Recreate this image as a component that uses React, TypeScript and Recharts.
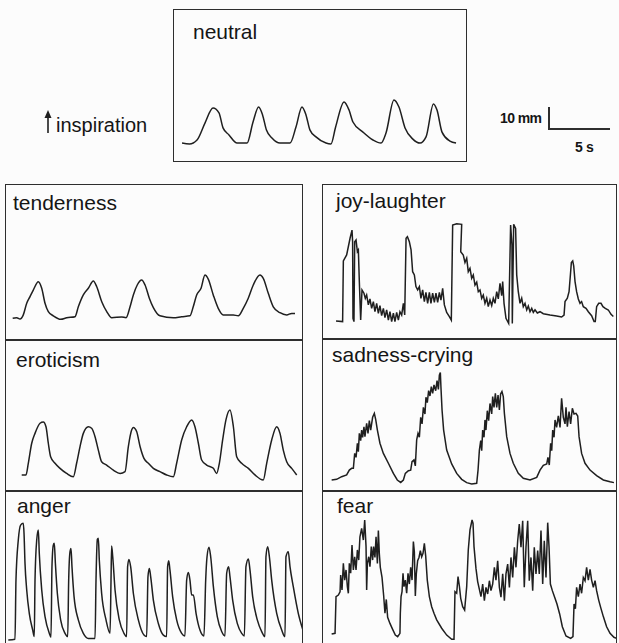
import React from 'react';
import { LineChart, Line, XAxis, YAxis } from 'recharts';

// scale bar: 5 s = 61 px, 10 mm = 22 px
const PX_PER_S = 12.2;
const PX_PER_MM = 2.2;

type Pt = [number, number]; // [time s, deflection mm]

const neutral: Pt[] = [
  [0.74, 8.6], [1.35, 8.2], [1.97, 10], [2.62, 17.7], [3.28, 24.5], [3.77, 22.3], [4.1, 15.5], [4.59, 12.3],
  [5.25, 8.6], [6.07, 8.6], [6.56, 18.2], [7.02, 25], [7.34, 21.4], [7.66, 14.5], [8.11, 10.9], [8.77, 8.6],
  [9.59, 8.6], [10.08, 15.9], [10.57, 25], [10.9, 21.4], [11.23, 14.5], [11.72, 11.4], [12.54, 8.6], [12.95, 8.2],
  [13.33, 15.9], [14.02, 27.3], [14.43, 23.6], [14.75, 18.2], [15.57, 13.6], [16.39, 10], [17.05, 8.6], [17.46, 13.2],
  [18.11, 28.2], [18.52, 25], [19.02, 15.5], [19.64, 10.5], [20.25, 8.6], [20.74, 11.4], [21.35, 26.4], [21.64, 23.6],
  [22.05, 13.6], [22.7, 9.5], [23.2, 8.6],
];

const tenderness: Pt[] = [
  [0.63, 9.9], [0.96, 10.1], [1.23, 9.5], [1.5, 11.4], [1.78, 16.7], [2.05, 19.7], [2.32, 22.7], [2.73, 26.5],
  [3.01, 23.5], [3.28, 16.7], [3.55, 12.9], [3.96, 11], [4.57, 9.4], [5.06, 10.1], [5.74, 10.6], [6.01, 15.1],
  [6.42, 20.5], [6.83, 23.5], [7.24, 26.8], [7.52, 24.2], [7.93, 17.4], [8.34, 12.9], [8.75, 10.1], [9.57, 10.5],
  [9.92, 10.1], [10.25, 15.1], [10.52, 20.5], [10.84, 25], [11.2, 27.3], [11.48, 25], [11.83, 19], [12.16, 14.7],
  [12.7, 11], [13.8, 10.1], [14.48, 10.6], [15.16, 11], [15.43, 15.1], [15.71, 20.5], [16.07, 23.5], [16.39, 29.5],
  [16.66, 27.7], [17.07, 20.5], [17.48, 14.4], [17.89, 11.4], [18.71, 11.4], [19.12, 11], [19.53, 14.4], [19.94, 19],
  [20.35, 25], [20.9, 29.5], [21.17, 28], [21.58, 21.2], [21.99, 15.1], [22.54, 12.4], [23.09, 11.4], [23.5, 12.1],
  [23.77, 12.1],
];

const eroticism: Pt[] = [
  [1.37, 7.3], [1.72, 7.3], [1.91, 12.6], [2.19, 21.7], [2.46, 26.2], [2.87, 30.8], [3.14, 31.4], [3.36, 29.2],
  [3.55, 21.7], [3.74, 15.6], [4.1, 12.6], [4.51, 10.3], [5.05, 8], [5.6, 6.5], [5.87, 12.6], [6.15, 20.2],
  [6.42, 26.2], [6.83, 29.2], [7.1, 28.5], [7.38, 24.7], [7.65, 18.6], [7.92, 13.3], [8.33, 11.8], [8.88, 9.5],
  [9.43, 8], [9.84, 8.8], [10.11, 20.2], [10.38, 27.7], [10.52, 28.9], [10.79, 27], [11.07, 20.2], [11.39, 14.8],
  [11.75, 12.6], [12.16, 10.3], [12.7, 8.8], [13.25, 7.3], [13.8, 6.5], [14.07, 12.6], [14.48, 23.2], [14.89, 29.2],
  [15.3, 32.3], [15.57, 29.2], [15.85, 21.7], [16.12, 14.1], [16.53, 11.8], [17.08, 10.3], [17.35, 8], [17.57, 12.6],
  [17.84, 23.2], [18.11, 32.3], [18.44, 36.8], [18.72, 29.2], [18.99, 15.6], [19.4, 12.6], [19.95, 10.3], [20.49, 7.3],
  [21.17, 5], [21.45, 12.6], [21.86, 23.2], [22.27, 29.2], [22.54, 26.2], [22.81, 18.6], [23.09, 13.3], [23.5, 10.3],
  [23.91, 7.3],
];

const anger: Pt[] = [
  [0.27, 1.4], [0.82, 1.7], [0.9, 28.6], [1.09, 46.8], [1.28, 53.6], [1.5, 54.4], [1.56, 49.8], [1.64, 36.2],
  [1.78, 24.1], [1.99, 13.5], [2.27, 5.9], [2.4, 2.9], [2.46, 28.6], [2.6, 46.8], [2.73, 51.4], [2.81, 40.8],
  [3.01, 24.1], [3.28, 12], [3.63, 4.4], [3.77, 2.6], [3.85, 34.7], [3.96, 44.5], [4.04, 45.3], [4.13, 36.2],
  [4.29, 22.6], [4.56, 10.5], [4.92, 4.4], [5.14, 2.9], [5.22, 28.6], [5.33, 41.5], [5.41, 43], [5.49, 34.7],
  [5.66, 21.1], [6.01, 10.5], [6.42, 4.4], [6.83, 2.1], [7.38, 2.1], [7.46, 28.6], [7.57, 47.1], [7.65, 47.6],
  [7.73, 37.7], [7.92, 22.6], [8.28, 10.5], [8.61, 4.4], [8.69, 28.6], [8.74, 44.1], [8.83, 39.2], [9.02, 24.1],
  [9.37, 10.5], [9.75, 4.4], [9.97, 2.9], [10.05, 34.7], [10.16, 38], [10.3, 34.7], [10.52, 22.6], [10.93, 10.5],
  [11.39, 3.6], [11.61, 2.9], [11.72, 30.2], [11.83, 33.9], [11.94, 30.2], [12.16, 19.5], [12.57, 8.9], [12.98, 3.6],
  [13.25, 2.9], [13.33, 34.7], [13.42, 37.4], [13.52, 33.2], [13.74, 21.1], [14.07, 10.5], [14.48, 4.4], [14.75, 3.2],
  [14.89, 28.6], [15.03, 32], [15.16, 28.6], [15.3, 21.8], [15.44, 21.8], [15.66, 13.5], [15.98, 5.9], [16.31, 3.2],
  [16.45, 28.6], [16.56, 39.2], [16.72, 43.5], [16.86, 39.2], [17.08, 25.6], [17.4, 12], [17.76, 5.2], [18.03, 3.2],
  [18.17, 31.7], [18.33, 34.7], [18.44, 30.2], [18.66, 19.5], [19.04, 8.9], [19.4, 4.4], [19.62, 3.2], [19.75, 34.7],
  [19.95, 38.2], [20.08, 33.2], [20.3, 21.1], [20.68, 10.5], [21.04, 5.2], [21.31, 2.9], [21.39, 39.2], [21.53, 43.8],
  [21.67, 39.2], [21.86, 28.6], [22.27, 13.5], [22.68, 5.9], [22.95, 2.9], [23.03, 39.2], [23.22, 41.5], [23.36, 34.7],
  [23.63, 25.6], [24.04, 13.5], [24.4, 6.2],
];

const joyLaughter: Pt[] = [
  [1.15, 8.2], [1.69, 7.9], [1.75, 35.5], [2.02, 38.2], [2.3, 45.8], [2.46, 49.5], [2.51, 44.2], [2.54, 9.4],
  [2.62, 7.9], [2.68, 44.2], [2.79, 45], [2.9, 39.7], [2.98, 40.5], [3.06, 26.1], [3.17, 8.6], [3.28, 22.3],
  [3.44, 20.8], [3.55, 18.5], [3.66, 20], [3.8, 15.5], [3.93, 18.2], [4.07, 13.9], [4.21, 17], [4.34, 12.4],
  [4.48, 16.2], [4.62, 11.7], [4.75, 15.2], [4.89, 10.6], [5.03, 13.9], [5.16, 9.7], [5.3, 13.2], [5.44, 8.6],
  [5.57, 12.4], [5.71, 7.9], [5.85, 11.7], [5.98, 7.9], [6.12, 12.1], [6.26, 8.6], [6.39, 12.4], [6.53, 10.9],
  [6.67, 16.2], [6.78, 10.9], [6.89, 45.8], [7, 46.5], [7.16, 44.2], [7.3, 40.5], [7.43, 30.6], [7.57, 29.1],
  [7.7, 23.8], [7.84, 22.3], [7.98, 23.8], [8.11, 18.5], [8.25, 22.3], [8.39, 17], [8.52, 21.2], [8.66, 16.2],
  [8.8, 21.2], [8.93, 16.2], [9.07, 20.8], [9.21, 16.7], [9.34, 20.8], [9.48, 16.7], [9.62, 21.2], [9.75, 17.7],
  [9.89, 23], [10.03, 15.5], [10.22, 12.1], [10.44, 10.2], [10.6, 8.6], [10.71, 51.8], [11.04, 52.4], [11.45, 52.1],
  [11.37, 39.7], [11.58, 38.2], [11.72, 34.8], [11.86, 36.7], [11.99, 30.6], [12.13, 32.1], [12.27, 27.6], [12.4, 29.1],
  [12.54, 24.5], [12.68, 25.8], [12.81, 21.5], [12.95, 22.3], [13.09, 18.5], [13.22, 20], [13.36, 16.2], [13.5, 18.5],
  [13.63, 14.7], [13.77, 17.7], [13.91, 15.2], [14.04, 18.5], [14.18, 16.2], [14.32, 21.5], [14.45, 18.2], [14.59, 25.3],
  [14.73, 19.7], [14.81, 26.1], [14.92, 16.2], [15.08, 9.4], [15.3, 7.1], [15.46, 51.8], [15.57, 42.7], [15.6, 7.1],
  [15.71, 52.1], [15.87, 50.3], [15.96, 29.1], [16.09, 21.5], [16.23, 16.2], [16.37, 18.5], [16.5, 14.7], [16.64, 16.2],
  [16.78, 13.2], [16.91, 15], [17.05, 12.4], [17.19, 13.9], [17.32, 12.1], [17.46, 13.3], [17.65, 11.8], [17.87, 12.4],
  [18.14, 11.5], [18.69, 10.9], [19.23, 10.5], [19.64, 10], [19.84, 10.9], [19.92, 17], [20.11, 18.5], [20.25, 21.5],
  [20.36, 29.1], [20.44, 34.8], [20.55, 35.5], [20.63, 33.3], [20.74, 26.1], [20.87, 21.5], [21.01, 18.2], [21.15, 16.2],
  [21.28, 17], [21.42, 14.7], [21.64, 13.9], [21.83, 12.4], [22.1, 10.6], [22.3, 7.9], [22.4, 7.9], [22.51, 14.7],
  [22.68, 16.2], [22.87, 16.2], [23.03, 14.7], [23.22, 13.9], [23.47, 13.2], [23.69, 11.2], [23.88, 10.2],
];

const sadnessCrying: Pt[] = [
  [0.79, 5], [1.2, 5.3], [1.61, 6.5], [2.02, 7.3], [2.24, 9.5], [2.43, 10.3], [2.57, 10.3], [2.68, 17.1],
  [2.79, 15.3], [2.9, 21.7], [2.98, 17.9], [3.06, 26.2], [3.17, 22.9], [3.25, 27.7], [3.33, 24.4], [3.44, 29.2],
  [3.52, 24.7], [3.66, 30.8], [3.77, 26.2], [3.88, 32], [3.99, 27.7], [4.15, 33.5], [4.29, 35.3], [4.4, 32.6],
  [4.54, 27.7], [4.75, 21.7], [5.03, 17.1], [5.44, 12.6], [5.85, 8], [6.17, 5], [6.45, 3.9], [6.67, 5],
  [6.83, 8], [7.08, 9.2], [7.27, 9.5], [7.38, 13.3], [7.54, 14.1], [7.65, 11.4], [7.76, 23.2], [7.87, 26.2],
  [7.98, 24.4], [8.09, 33.5], [8.2, 30.5], [8.31, 38], [8.44, 35], [8.52, 42.6], [8.63, 40.2], [8.74, 45.6],
  [8.85, 43.2], [8.96, 47.4], [9.07, 44.4], [9.18, 48.2], [9.32, 45.6], [9.43, 50.2], [9.54, 46.2], [9.62, 52.7],
  [9.7, 53.8], [9.75, 47.1], [9.84, 36.8], [9.97, 27.7], [10.22, 18.6], [10.63, 12.3], [11.04, 8], [11.45, 5.3],
  [11.86, 3.8], [12.27, 3.2], [12.68, 3.5], [12.79, 9.5], [12.9, 18.6], [13.01, 22.9], [13.09, 18.3], [13.17, 27.7],
  [13.28, 24.4], [13.36, 32.3], [13.44, 27.7], [13.55, 36.5], [13.66, 32], [13.77, 39.8], [13.91, 35], [13.99, 42.9],
  [14.1, 38], [14.21, 44.4], [14.32, 38], [14.43, 43.6], [14.54, 36.8], [14.64, 44.1], [14.75, 45.2], [14.86, 42.9],
  [14.95, 35.3], [15.14, 24.7], [15.41, 17.1], [15.68, 12.6], [16.09, 8], [16.5, 5.8], [17.05, 5], [17.6, 6.2],
  [17.87, 9.5], [18.14, 11.7], [18.42, 12.3], [18.52, 15.3], [18.63, 11.8], [18.74, 21.7], [18.83, 18.3], [18.91, 27.7],
  [19.02, 24.4], [19.1, 32.3], [19.23, 28.9], [19.37, 34.1], [19.51, 28.9], [19.64, 42.1], [19.78, 33.5], [19.92, 30.5],
  [20, 38], [20.11, 29.2], [20.25, 36.1], [20.38, 30.5], [20.52, 37.6], [20.66, 35], [20.82, 35.3], [20.96, 34.1],
  [21.07, 24.7], [21.28, 17.1], [21.56, 12.6], [21.97, 9.5], [22.51, 7], [23.06, 5], [23.61, 4.2], [23.93, 3.8],
];

const fear: Pt[] = [
  [0.79, 4.1], [1.07, 4.4], [1.15, 21.1], [1.34, 21.8], [1.48, 23.3], [1.53, 30.9], [1.64, 24.1], [1.75, 36.2],
  [1.86, 28.6], [1.97, 33.2], [2.08, 25.6], [2.16, 22.6], [2.24, 36.2], [2.35, 31.7], [2.46, 44.5], [2.57, 33.2],
  [2.68, 39.2], [2.79, 33.2], [2.9, 42.3], [3.01, 37.7], [3.11, 48.3], [3.25, 52.1], [3.39, 46.8], [3.5, 55.9],
  [3.61, 43.8], [3.66, 24.1], [3.72, 36.2], [3.83, 39.2], [3.93, 34.7], [4.04, 43.8], [4.15, 37.7], [4.23, 43.8],
  [4.34, 38.9], [4.43, 48.3], [4.54, 36.2], [4.62, 51.1], [4.7, 40.5], [4.78, 34.4], [4.92, 29.8], [5.05, 21.8],
  [5.16, 13.5], [5.27, 19.8], [5.38, 11.7], [5.57, 8.9], [5.79, 6.2], [6.01, 3.6], [6.2, 2.9], [6.39, 4.4],
  [6.42, 13.5], [6.48, 21.1], [6.56, 23.3], [6.64, 31.7], [6.72, 25.6], [6.83, 28.6], [6.94, 22.6], [7.05, 31.7],
  [7.16, 26.8], [7.27, 34.4], [7.38, 28.6], [7.49, 46.1], [7.57, 41.5], [7.65, 21.4], [7.73, 31.4], [7.84, 37.4],
  [7.95, 38.9], [8.06, 42], [8.17, 39.2], [8.28, 40.8], [8.39, 45.3], [8.5, 39.5], [8.63, 28.6], [8.8, 21.1],
  [8.99, 16.5], [9.18, 13.5], [9.4, 10.5], [9.81, 6.7], [10.22, 3.6], [10.63, 1.7], [10.82, 1.7], [10.9, 23.3],
  [11.04, 22.6], [11.15, 30.2], [11.26, 25.9], [11.37, 20.3], [11.53, 16.5], [11.69, 15], [11.86, 25.6], [11.99, 42.3],
  [12.13, 51.4], [12.3, 55.9], [12.38, 54.4], [12.46, 43.8], [12.62, 33.9], [12.76, 27.9], [12.9, 24.4], [13.03, 21.1],
  [13.17, 26.8], [13.31, 19.2], [13.44, 25.3], [13.58, 22.3], [13.72, 28.3], [13.85, 23.8], [13.99, 26.8], [14.13, 34.4],
  [14.26, 28.6], [14.4, 37.4], [14.54, 25.3], [14.67, 20.8], [14.81, 31.4], [14.95, 19.2], [15.08, 31.4], [15.22, 35.9],
  [15.36, 25.3], [15.49, 38.9], [15.63, 29.8], [15.77, 43.5], [15.9, 34.4], [16.04, 46.5], [16.17, 54.1], [16.31, 43.5],
  [16.45, 55.6], [16.58, 25.3], [16.72, 43.5], [16.86, 55.6], [16.99, 28.3], [17.13, 38.9], [17.27, 23.8], [17.4, 43.5],
  [17.54, 31.4], [17.68, 42], [17.81, 31.4], [17.95, 51.1], [18.09, 26.8], [18.22, 46.5], [18.36, 29.8], [18.5, 54.7],
  [18.61, 43.5], [18.72, 26.8], [18.88, 23.8], [19.07, 20.8], [19.26, 17.7], [19.48, 13.2], [19.7, 7.4], [20, 3.2],
  [20.38, 2.1], [20.57, 2.9], [20.66, 17.7], [20.77, 15.6], [20.87, 25.3], [21.01, 21.1], [21.15, 26.8], [21.28, 22.6],
  [21.42, 29.8], [21.56, 28.3], [21.69, 34.4], [21.83, 28.6], [21.97, 33.5], [22.1, 28.6], [22.24, 25.3], [22.38, 28.3],
  [22.51, 23.8], [22.68, 19.5], [22.84, 16.2], [23.06, 12], [23.33, 7.4], [23.61, 4.4], [23.93, 2.6], [24.21, 2],
];

const INK = '#1f1f1f';
const FONT = '"Liberation Sans", Arial, sans-serif';

type PanelProps = {
  left: number; top: number; width: number; height: number;
  label: string; labelX: number; labelY: number;
  points: Pt[]; curve?: 'linear' | 'monotone'; open?: boolean;
};

function Panel({ left, top, width, height, label, labelX, labelY, points, curve = 'linear', open }: PanelProps) {
  const rows = points.map(([t, mm]) => ({ t, mm }));
  return (
    <div style={{ position: 'absolute', left, top, width, height }}>
      <LineChart width={width} height={height} data={rows} margin={{ top: 0, right: 0, bottom: 0, left: 0 }}>
        <XAxis type="number" dataKey="t" domain={[0, width / PX_PER_S]} allowDataOverflow hide />
        <YAxis type="number" domain={[0, height / PX_PER_MM]} allowDataOverflow hide />
        <Line dataKey="mm" type={curve} stroke={INK} strokeWidth={1.5} dot={false} isAnimationActive={false} />
      </LineChart>
      <div
        style={{
          position: 'absolute', left: 0, top: 0, width, height: open ? height + 30 : height,
          boxSizing: 'border-box', border: '1.5px solid #2e2e2e', pointerEvents: 'none',
        }}
      />
      <div style={{ position: 'absolute', left: labelX, top: labelY, fontFamily: FONT, fontSize: 21, lineHeight: 1, color: '#151515', whiteSpace: 'nowrap' }}>
        {label}
      </div>
    </div>
  );
}

export default function App() {
  return (
    <div style={{ position: 'absolute', left: 0, top: 0, width: 619, height: 643, overflow: 'hidden', background: '#fcfcfc' }}>
      <Panel left={173} top={9} width={294} height={153} label="neutral" labelX={20} labelY={12} points={neutral} curve="monotone" />

      {/* inspiration arrow */}
      <svg style={{ position: 'absolute', left: 43, top: 110 }} width={10} height={24}>
        <line x1={5} y1={5} x2={5} y2={23} stroke={INK} strokeWidth={1.6} />
        <polygon points="1.5,8 5,0 8.5,8" fill={INK} />
      </svg>
      <div style={{ position: 'absolute', left: 56, top: 115, fontFamily: FONT, fontSize: 20, lineHeight: 1, color: '#151515' }}>inspiration</div>

      {/* scale bar */}
      <div style={{ position: 'absolute', left: 548, top: 107, width: 1.6, height: 23, background: '#2e2e2e' }} />
      <div style={{ position: 'absolute', left: 548, top: 128, width: 62, height: 1.6, background: '#2e2e2e' }} />
      <div style={{ position: 'absolute', left: 500, top: 111, fontFamily: FONT, fontSize: 14, fontWeight: 700, lineHeight: 1, letterSpacing: -0.6, color: '#151515' }}>10 mm</div>
      <div style={{ position: 'absolute', left: 575, top: 140, fontFamily: FONT, fontSize: 14, fontWeight: 700, lineHeight: 1, letterSpacing: -0.3, color: '#151515' }}>5 s</div>

      <Panel left={5} top={184} width={298} height={156} label="tenderness" labelX={8} labelY={8} points={tenderness} curve="monotone" />
      <Panel left={5} top={340} width={298} height={151} label="eroticism" labelX={11} labelY={9} points={eroticism} curve="monotone" />
      <Panel left={5} top={491} width={298} height={152} label="anger" labelX={12} labelY={4} points={anger} curve="monotone" open />

      <Panel left={322} top={184} width={295} height={155} label="joy-laughter" labelX={14} labelY={6} points={joyLaughter} />
      <Panel left={322} top={339} width={295} height={152} label="sadness-crying" labelX={10} labelY={5} points={sadnessCrying} />
      <Panel left={322} top={491} width={295} height={152} label="fear" labelX={15} labelY={4} points={fear} open />
    </div>
  );
}
